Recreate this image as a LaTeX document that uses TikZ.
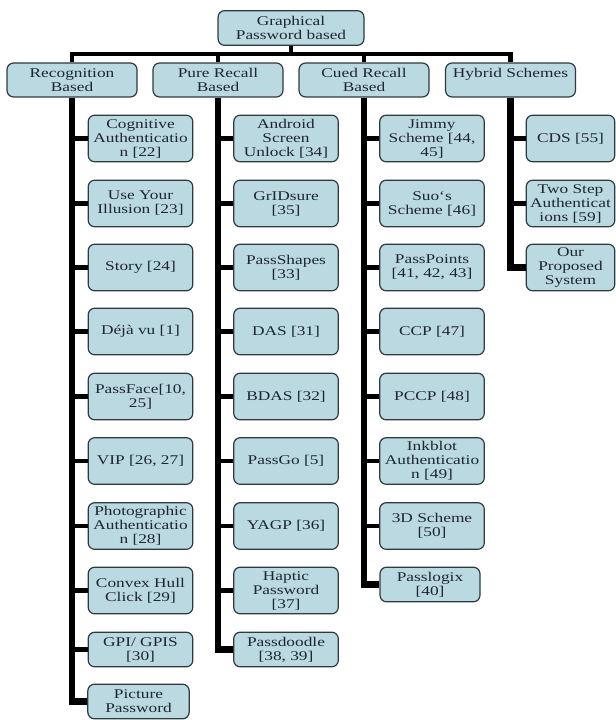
\documentclass[tikz,border=0pt]{standalone}
\usepackage{fontspec}
\setmainfont{Liberation Serif}[FakeStretch=1.3]
\definecolor{boxfill}{HTML}{BAD9E0}
\definecolor{boxline}{HTML}{2E3A3F}
\definecolor{boxtext}{HTML}{1E2630}
\tikzset{
  box/.style={draw=boxline, line width=0.9pt, fill=boxfill, rounded corners=5pt,
    align=center, text=boxtext, font=\fontsize{10}{10.5}\selectfont, inner sep=1pt},
  head/.style={box, minimum width=97.5pt, minimum height=25.5pt},
  kid/.style={box, minimum width=78.5pt, minimum height=35pt},
  shortkid/.style={box, minimum width=78.5pt, minimum height=26pt},
  trunk/.style={line width=4.9pt},
  stub/.style={line width=3.4pt},
}
\begin{document}
\begin{tikzpicture}[x=0.75pt,y=-0.75pt]
\useasboundingbox (0,0) rectangle (616,720);
% root and the four families
\node[head, minimum width=109.5pt, minimum height=26pt] (root) at (291,28) {Graphical\\Password based};
\node[head] (recog) at (72,80) {Recognition\\Based};
\node[head] (pure) at (218,80) {Pure Recall\\Based};
\node[head] (cued) at (364,80) {Cued Recall\\Based};
\node[head] (hyb) at (510.5,80) {Hybrid Schemes\\~};
% recognition based schemes
\node[kid] (cog) at (140.5,138.5) {Cognitive\\Authenticatio\\n [22]};
\node[kid] (ill) at (140.5,203.5) {Use Your\\Illusion [23]};
\node[kid] (story) at (140.5,267.5) {Story [24]};
\node[kid] (deja) at (140.5,331.5) {Déjà vu [1]};
\node[kid] (pface) at (140.5,396.5) {PassFace[10,\\25]};
\node[kid] (vip) at (140.5,461) {VIP [26, 27]};
\node[kid] (photo) at (140.5,526) {Photographic\\Authenticatio\\n [28]};
\node[kid] (convex) at (140.5,590.5) {Convex Hull\\Click [29]};
\node[shortkid] (gpi) at (140.5,649.5) {GPI/ GPIS\\{}[30]};
\node[shortkid, minimum width=76pt] (pic) at (138.5,701.5) {Picture\\Password};
% pure recall based schemes
\node[kid] (android) at (286,138.5) {Android\\Screen\\Unlock [34]};
\node[kid] (grid) at (286,203.5) {GrIDsure\\{}[35]};
\node[kid] (shapes) at (286,267.5) {PassShapes\\{}[33]};
\node[kid] (das) at (286,331.5) {DAS [31]};
\node[kid] (bdas) at (286,396.5) {BDAS [32]};
\node[kid] (passgo) at (286,461) {PassGo [5]};
\node[kid] (yagp) at (286,526) {YAGP [36]};
\node[kid] (haptic) at (286,590.5) {Haptic\\Password\\{}[37]};
\node[shortkid] (doodle) at (286,649.5) {Passdoodle\\{}[38, 39]};
% cued recall based schemes
\node[kid] (jimmy) at (432,138.5) {Jimmy\\Scheme [44,\\45]};
\node[kid] (suo) at (432,203.5) {Suo`s\\Scheme [46]};
\node[kid] (points) at (432,267.5) {PassPoints\\{}[41, 42, 43]};
\node[kid] (ccp) at (432,331.5) {CCP [47]};
\node[kid] (pccp) at (432,396.5) {PCCP [48]};
\node[kid] (ink) at (432,461) {Inkblot\\Authenticatio\\n [49]};
\node[kid] (threed) at (432,526) {3D Scheme\\{}[50]};
\node[shortkid, minimum width=75pt] (logix) at (430,584.5) {Passlogix\\{}[40]};
% hybrid schemes
\node[kid, minimum width=66.5pt] (cds) at (570.5,138.5) {CDS [55]};
\node[kid, minimum width=66.5pt] (twostep) at (570.5,203.5) {Two Step\\Authenticat\\ions [59]};
\node[kid, minimum width=66.5pt] (ours) at (570.5,267.5) {Our\\Proposed\\System};
% bus under the root
\coordinate (bus) at (291,54);
\draw[stub] (root.south) -- (bus);
\draw[stub] (recog.north) |- (bus) -| (hyb.north);
\draw[stub] (pure.north) -- (pure.north |- bus);
\draw[stub] (cued.north) -- (cued.north |- bus);
% trunks of the four families
\draw[trunk] (recog.south) |- (pic.west);
\draw[trunk] (pure.south) |- (doodle.west);
\draw[trunk] (cued.south) |- (logix.west);
\draw[trunk] (hyb.south) |- (ours.west);
% branches of recognition based
\draw[stub] (recog.south |- cog.west) -- (cog.west);
\draw[stub] (recog.south |- ill.west) -- (ill.west);
\draw[stub] (recog.south |- story.west) -- (story.west);
\draw[stub] (recog.south |- deja.west) -- (deja.west);
\draw[stub] (recog.south |- pface.west) -- (pface.west);
\draw[stub] (recog.south |- vip.west) -- (vip.west);
\draw[stub] (recog.south |- photo.west) -- (photo.west);
\draw[stub] (recog.south |- convex.west) -- (convex.west);
\draw[stub] (recog.south |- gpi.west) -- (gpi.west);
% branches of pure recall based
\draw[stub] (pure.south |- android.west) -- (android.west);
\draw[stub] (pure.south |- grid.west) -- (grid.west);
\draw[stub] (pure.south |- shapes.west) -- (shapes.west);
\draw[stub] (pure.south |- das.west) -- (das.west);
\draw[stub] (pure.south |- bdas.west) -- (bdas.west);
\draw[stub] (pure.south |- passgo.west) -- (passgo.west);
\draw[stub] (pure.south |- yagp.west) -- (yagp.west);
\draw[stub] (pure.south |- haptic.west) -- (haptic.west);
% branches of cued recall based
\draw[stub] (cued.south |- jimmy.west) -- (jimmy.west);
\draw[stub] (cued.south |- suo.west) -- (suo.west);
\draw[stub] (cued.south |- points.west) -- (points.west);
\draw[stub] (cued.south |- ccp.west) -- (ccp.west);
\draw[stub] (cued.south |- pccp.west) -- (pccp.west);
\draw[stub] (cued.south |- ink.west) -- (ink.west);
\draw[stub] (cued.south |- threed.west) -- (threed.west);
% branches of hybrid schemes
\draw[stub] (hyb.south |- cds.west) -- (cds.west);
\draw[stub] (hyb.south |- twostep.west) -- (twostep.west);
\end{tikzpicture}
\end{document}
